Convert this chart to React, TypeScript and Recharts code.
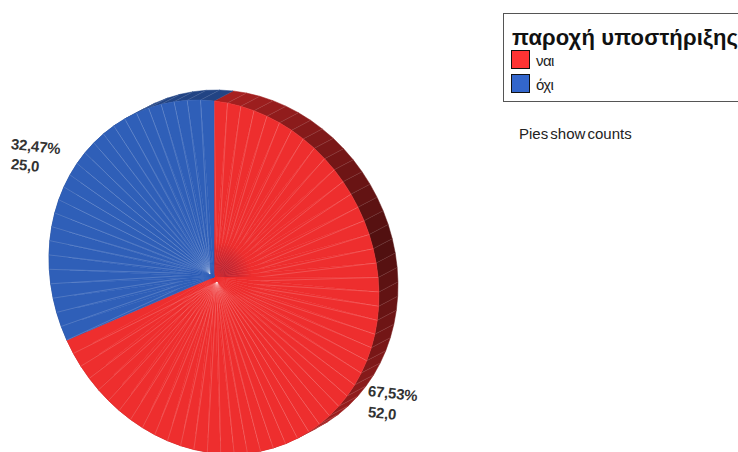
import { PieChart, Pie, Cell } from 'recharts';

const categories = ['ναι', 'όχι'];
const counts = [52, 25];
const faceColors = ['#ee2e2e', '#2f5fb8'];
const swatchColors = ['#ff3333', '#3366cc'];
const legendTitle = 'παροχή υποστήριξης';
const note = 'Pies show counts';

// one facet per counted case, so the spokes follow the totals
const facets = categories.flatMap((name, i) =>
  Array.from({ length: counts[i] }, () => ({ name, count: 1, series: i }))
);

const total = counts.reduce((a, b) => a + b, 0);
const percentText = (v: number) => ((v / total) * 100).toFixed(2).replace('.', ',') + '%';

// tilted disc: taller than wide and leaning down to the right
const SQUASH = 1.067;
const LEAN = 0.112;
const DEPTH_X = 19;
const DEPTH_Y = -10;
// the spokes of each wedge converge a little off the hub
const SPOKE_SHIFT: Record<string, number[]> = { '#ee2e2e': [3, 5], '#2f5fb8': [-4, -3] };

const rimPoint = (p: any, deg: number) => {
  const rad = (deg * Math.PI) / 180;
  const r = p.outerRadius;
  return [p.cx + r * Math.cos(rad), p.cy - r * SQUASH * Math.sin(rad) + r * LEAN * Math.cos(rad)];
};

const clockwiseMid = (p: any) => (((90 - (p.startAngle + p.endAngle) / 2) % 360) + 360) % 360;

function mix(hex: string, k: number) {
  const n = parseInt(hex.slice(1), 16);
  const c = [n >> 16, (n >> 8) & 255, n & 255].map(v => Math.round(v * k));
  return `rgb(${c.join(',')})`;
}

function FaceFacet(props: any) {
  const [ax, ay] = rimPoint(props, props.startAngle);
  const [bx, by] = rimPoint(props, props.endAngle);
  const [sx, sy] = SPOKE_SHIFT[props.fill] ?? [0, 0];
  const mid = clockwiseMid(props);
  const shaded = props.fill === '#ee2e2e' && mid < 85;
  const darkSpoke = mid > 4 && mid < 6;
  const wedge = `M${props.cx},${props.cy}L${ax},${ay}L${bx},${by}Z`;
  return (
    <g>
      <path d={wedge} fill={props.fill} stroke={props.fill} strokeWidth={0.5} />
      {shaded && <path d={wedge} fill="url(#hubShade)" />}
      <line
        x1={props.cx + sx}
        y1={props.cy + sy}
        x2={ax}
        y2={ay}
        stroke={darkSpoke ? '#4a3a60' : '#fff'}
        strokeOpacity={darkSpoke ? 0.55 : 0.25}
        strokeWidth={0.7}
      />
    </g>
  );
}

function SideFacet(props: any) {
  const [ax, ay] = rimPoint(props, props.startAngle);
  const [bx, by] = rimPoint(props, props.endAngle);
  // the side is darkest about 75 degrees clockwise from 12 o'clock
  const mid = clockwiseMid(props);
  const off = Math.min(Math.abs(mid - 75), 360 - Math.abs(mid - 75));
  const k = Math.min(0.72, 0.33 + (off / 70) * 0.36);
  const fill = mix(props.fill, k);
  return (
    <g>
      <path
        d={`M${ax},${ay}L${bx},${by}L${bx + DEPTH_X},${by + DEPTH_Y}L${ax + DEPTH_X},${ay + DEPTH_Y}Z`}
        fill={fill}
        stroke={fill}
        strokeWidth={0.5}
      />
      <line x1={ax} y1={ay} x2={ax + DEPTH_X} y2={ay + DEPTH_Y} stroke="#fff" strokeOpacity={0.14} strokeWidth={0.7} />
    </g>
  );
}

// left edge and line tops of each value label
const pieLabels = [
  { left: 368, tops: [381, 402] },
  { left: 11, tops: [134, 154] },
];

const abs = (left: number, top: number): React.CSSProperties => ({ position: 'absolute', left, top });

const labelLine: React.CSSProperties = {
  transform: 'rotate(6deg)',
  transformOrigin: 'left center',
  fontSize: 15,
  lineHeight: '20px',
  fontWeight: 700,
  color: '#333',
  letterSpacing: -0.2,
  whiteSpace: 'nowrap',
};

export default function App() {
  return (
    <div
      style={{
        position: 'absolute',
        left: 0,
        top: 0,
        width: 738,
        height: 452,
        overflow: 'hidden',
        background: '#fff',
        fontFamily: '"Liberation Sans", Arial, sans-serif',
      }}
    >
      <PieChart width={738} height={452} margin={{ top: 0, right: 0, bottom: 0, left: 0 }}>
        <defs>
          <radialGradient id="hubShade" gradientUnits="userSpaceOnUse" cx={218} cy={276} r={34}>
            <stop offset="0%" stopColor="#7a1c3a" stopOpacity={0.7} />
            <stop offset="100%" stopColor="#7a1c3a" stopOpacity={0} />
          </radialGradient>
        </defs>
        <Pie
          data={facets}
          dataKey="count"
          cx={214}
          cy={277}
          outerRadius={165}
          startAngle={90}
          endAngle={-270}
          stroke="none"
          isAnimationActive={false}
          shape={SideFacet}
        >
          {facets.map((f, i) => (
            <Cell key={i} fill={faceColors[f.series]} />
          ))}
        </Pie>
        <Pie
          data={facets}
          dataKey="count"
          cx={214}
          cy={277}
          outerRadius={165}
          startAngle={90}
          endAngle={-270}
          stroke="none"
          isAnimationActive={false}
          shape={FaceFacet}
        >
          {facets.map((f, i) => (
            <Cell key={i} fill={faceColors[f.series]} />
          ))}
        </Pie>
      </PieChart>

      {counts.map((v, i) => (
        <div key={i}>
          <div style={{ ...abs(pieLabels[i].left, pieLabels[i].tops[0]), ...labelLine }}>{percentText(v)}</div>
          <div style={{ ...abs(pieLabels[i].left, pieLabels[i].tops[1]), ...labelLine }}>{v.toFixed(1).replace('.', ',')}</div>
        </div>
      ))}

      <div
        style={{
          ...abs(503, 13),
          width: 260,
          height: 89,
          boxSizing: 'border-box',
          border: '1.5px solid #555',
        }}
      />
      <div style={{ ...abs(512, 26), fontSize: 22, lineHeight: '24px', fontWeight: 700, letterSpacing: 0.15, color: '#111', whiteSpace: 'nowrap' }}>
        {legendTitle}
      </div>
      {categories.map((c, i) => (
        <div key={c}>
          <div
            style={{
              ...abs(511, 50 + i * 24),
              width: 19,
              height: 19,
              boxSizing: 'border-box',
              border: '1.5px solid #111',
              background: swatchColors[i],
            }}
          />
          <div style={{ ...abs(536, 52 + i * 24), fontSize: 15, lineHeight: '17px', color: '#222', letterSpacing: -0.6 }}>{c}</div>
        </div>
      ))}
      <div style={{ ...abs(519, 125), fontSize: 15, lineHeight: '17px', color: '#222', wordSpacing: -2, whiteSpace: 'nowrap' }}>
        {note}
      </div>
    </div>
  );
}
